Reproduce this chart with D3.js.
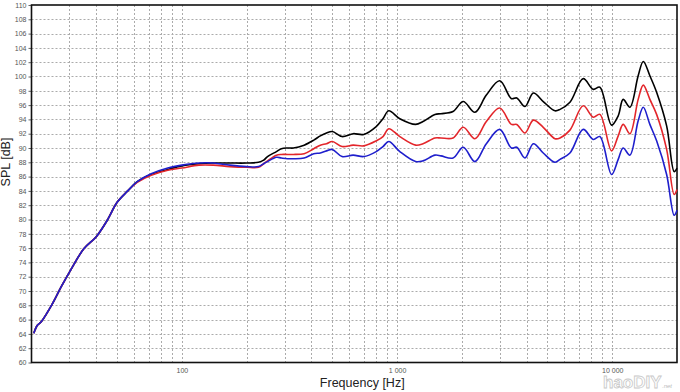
<!DOCTYPE html>
<html>
<head>
<meta charset="UTF-8">
<title>SPL</title>
<script src="https://cdn.jsdelivr.net/npm/d3@7"></script>
<style>
  body { margin: 0; background: #fff; }
  svg { display: block; font-family: "Liberation Sans", Arial, sans-serif; }
</style>
</head>
<body>
<script>
// frequency points (Hz) shared by the three curves
var freqs = [20.5, 21.3, 22.2, 25, 27.5, 30.5, 35, 40, 45, 50, 56, 62, 72, 86, 100, 120, 140, 167,
  200, 227, 240, 250, 275, 290, 310, 330, 370, 410, 440, 470, 500, 555, 625, 700, 800, 860, 915,
  1030, 1220, 1320, 1500, 1600, 1820, 2030, 2300, 2600, 3000, 3400, 3600, 3930, 4300, 4780, 5420,
  5720, 6360, 7330, 8160, 8760, 9930, 10660, 11240, 12080, 13200, 13940, 14960, 16080, 17900, 19400, 20000];

var splBlack = [64.1, 65.2, 65.7, 68.2, 70.6, 73.0, 75.9, 77.6, 79.9, 82.4, 84.0, 85.3, 86.3, 87.0, 87.5, 87.8, 87.9, 87.9,
  87.9, 88.0, 88.3, 88.8, 89.5, 89.9, 90.0, 90.0, 90.4, 91.1, 91.7, 92.1, 92.3, 91.6, 92.0, 91.9, 93.0, 94.1, 95.2,
  94.1, 93.3, 93.7, 94.7, 94.8, 95.1, 96.5, 95.0, 97.4, 99.4, 96.9, 97.0, 95.8, 97.7, 96.5, 95.2,
  95.4, 96.4, 99.7, 98.2, 98.5, 93.2, 94.5, 96.8, 95.7, 100.1, 102.1, 100.1, 97.8, 93.1, 86.7, 87.2];

var splRed = [64.1, 65.2, 65.7, 68.2, 70.6, 73.0, 75.9, 77.6, 79.9, 82.4, 84.0, 85.2, 86.2, 86.9, 87.2, 87.6, 87.6, 87.4,
  87.3, 87.3, 87.8, 88.2, 89.0, 89.1, 89.1, 89.1, 89.2, 89.9, 90.4, 90.6, 90.9, 90.2, 90.4, 90.3, 91.0, 91.6, 92.7,
  91.6, 90.4, 90.6, 91.4, 91.4, 91.4, 92.9, 91.3, 93.7, 95.6, 93.3, 93.3, 92.1, 93.9, 92.9, 91.3,
  91.4, 92.5, 95.9, 94.3, 94.7, 89.6, 91.7, 93.3, 92.0, 96.8, 98.8, 96.8, 94.7, 89.8, 83.5, 84.2];

var splBlue = [64.1, 65.2, 65.7, 68.2, 70.6, 73.0, 75.9, 77.6, 79.9, 82.4, 84.0, 85.3, 86.4, 87.2, 87.6, 87.9, 87.9, 87.6,
  87.4, 87.4, 87.8, 88.1, 88.7, 88.6, 88.5, 88.5, 88.6, 89.2, 89.3, 89.6, 89.8, 88.8, 89.0, 88.8, 89.5, 90.2, 90.9,
  89.5, 88.1, 88.2, 89.0, 88.9, 88.6, 90.1, 88.1, 90.6, 92.6, 90.0, 90.1, 88.6, 90.6, 89.3, 88.0,
  88.4, 89.3, 92.6, 91.2, 91.6, 86.3, 88.4, 90.0, 89.0, 93.8, 95.7, 93.3, 91.0, 86.3, 80.6, 81.3];

var seriesNames = ["black", "red", "blue"];
var seriesColors = ["#000000", "#e3262b", "#1f1fcc"];
var yTicks = d3.range(60, 111, 2);
var xLabels = [100, 1000, 10000];

var w = 680, h = 392;
var plotL = 31.5, plotR = 677, plotT = 5, plotB = 362.5;

var svg = d3.select("body").append("svg")
  .attr("width", w)
  .attr("height", h);

var x = d3.scaleLog().domain([20, 20000]).range([plotL, plotR]);
var y = d3.scaleLinear().domain([60, 110]).range([plotB, plotT]);

// grid lines
var gridX = [];
[10, 100, 1000, 10000].forEach(function(d) {
  for (var k = 1; k < 10; k++) {
    var f = d * k;
    if (f > 20 && f < 20000) gridX.push(f);
  }
});

var grid = svg.append("g").attr("class", "grid")
  .attr("stroke", "#ababab")
  .attr("stroke-width", 1)
  .attr("stroke-dasharray", "2,2");

grid.selectAll(".gx").data(gridX).enter().append("line")
  .attr("x1", function(d) { return Math.round(x(d)) + 0.5; })
  .attr("x2", function(d) { return Math.round(x(d)) + 0.5; })
  .attr("y1", plotT).attr("y2", plotB);

grid.selectAll(".gy").data(yTicks.slice(1, -1)).enter().append("line")
  .attr("x1", plotL).attr("x2", plotR)
  .attr("y1", function(d) { return Math.round(y(d)) + 0.5; })
  .attr("y2", function(d) { return Math.round(y(d)) + 0.5; });

// axes
var yAxis = d3.axisLeft(y).tickValues(yTicks).tickSize(3).tickPadding(2)
  .tickFormat(d3.format("d"));
var gy = svg.append("g").attr("transform", "translate(" + plotL + ",0)").call(yAxis);
gy.select(".domain").remove();
gy.selectAll("text").attr("font-size", 7).attr("fill", "#555");
gy.selectAll("line").attr("stroke", "#666");

var spaceFmt = d3.formatLocale({ decimal: ".", thousands: " ", grouping: [3], currency: ["", ""] }).format(",");
var xAxis = d3.axisBottom(x).tickValues(xLabels).tickSize(0).tickPadding(6).tickFormat(spaceFmt);
var gx = svg.append("g").attr("transform", "translate(0," + plotB + ")").call(xAxis);
gx.select(".domain").remove();
gx.selectAll("text").attr("font-size", 7).attr("fill", "#555");

// frame
svg.append("rect")
  .attr("x", plotL).attr("y", plotT)
  .attr("width", plotR - plotL).attr("height", plotB - plotT)
  .attr("fill", "none").attr("stroke", "#111").attr("stroke-width", 1.6);

// curves
var line = d3.line()
  .x(function(d) { return x(d[0]); })
  .y(function(d) { return y(d[1]); })
  .curve(d3.curveCatmullRom.alpha(0.5));

[splBlack, splRed, splBlue].forEach(function(vals, i) {
  svg.append("path")
    .datum(freqs.map(function(f, j) { return [f, vals[j]]; }))
    .attr("class", "curve " + seriesNames[i])
    .attr("fill", "none")
    .attr("stroke", seriesColors[i])
    .attr("stroke-width", 1.6)
    .attr("stroke-linejoin", "round")
    .attr("d", line);
});

// titles
svg.append("text")
  .attr("x", (plotL + plotR) / 2 + 8).attr("y", 387)
  .attr("text-anchor", "middle")
  .attr("font-size", 12.5).attr("fill", "#222")
  .text("Frequency [Hz]");

svg.append("text")
  .attr("transform", "translate(10,162) rotate(-90)")
  .attr("text-anchor", "middle")
  .attr("font-size", 12.5).attr("fill", "#222")
  .text("SPL [dB]");

// watermark
svg.append("text")
  .attr("x", 603).attr("y", 388)
  .attr("font-size", 17).attr("font-weight", "bold")
  .attr("fill", "#fff").attr("stroke", "#c8c8c8").attr("stroke-width", 0.8)
  .text("haoDIY");
svg.append("text")
  .attr("x", 662).attr("y", 388)
  .attr("font-size", 6).attr("fill", "#bbb").attr("font-style", "italic")
  .text(".net");
</script>
</body>
</html>
